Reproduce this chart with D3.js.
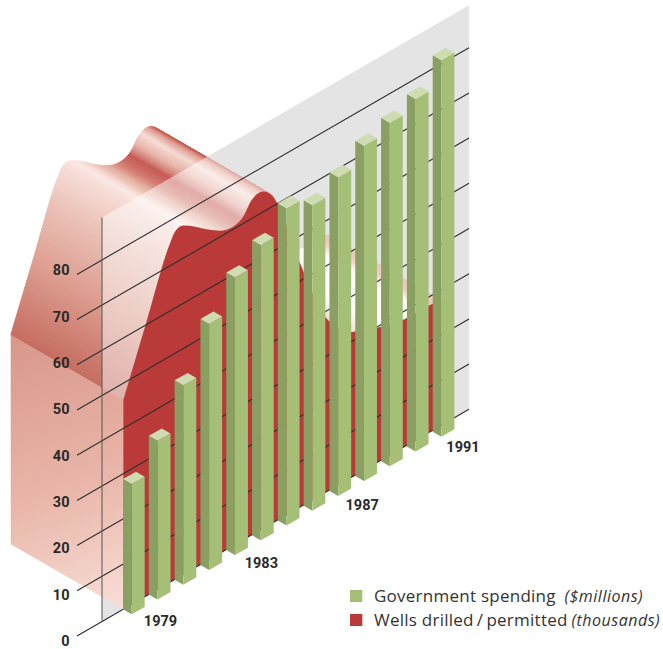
<!DOCTYPE html>
<html><head><meta charset="utf-8">
<script src="https://cdn.jsdelivr.net/npm/d3@7"></script>
<style>html,body{margin:0;padding:0;background:#fff}svg{display:block}</style>
</head><body><svg id="chart" width="663" height="649"></svg>
<script>
// ---- data ----
const years = [1979,1980,1981,1982,1983,1984,1985,1986,1987,1988,1989,1990,1991];
const spending = [28.8,35.1,44.1,54.4,61.4,65.3,70.2,67.6,70.5,74.2,76,78,83.3];
const wellsYears = [1979,1979.9,1980.81,1981,1981.32,1981.84,1982.22,1982.74,1983.25,1983.64,1983.97,1984.42,1984.74,1984.96,1985.84,1986.85,1987.82,1988.83,1989.84,1990.81,1991.31];
const wellsValues = [46.3,60.7,75,76.9,77.2,75.2,73.4,71.4,70.6,71.5,74.1,74.5,72.7,70.1,54,38.5,32.2,29.8,28.2,28.1,27.8];
const valueTicks = [0,10,20,30,40,50,60,70,80];
const yearLabels = [1979,1983,1987,1991];
// shading of the swept top of the wells ribbon, keyed by year along the curve
const shadeYears = [1979,1979.9,1980.8,1981.3,1981.85,1982.72,1983.2,1983.55,1983.8,1984,1984.25,1984.45,1984.96,1985.84,1986.85,1987.82,1989.02,1990.49,1990.87,1991.31];
const shadeColors = ["#c4685c","#de9f91","#f3d2ca","#fbe9e5","#f4d6cf","#e5ae9f","#d0746a","#c4564e","#e8b6aa","#f7dcd5","#e09a8f","#c4584f","#dd9d90","#f2cdc4","#dfa090","#ecc0b4","#ffffff","#ffffff","#dd9c8c","#d68d7d"];
const legendItems = [
  {label:"Government spending", unit:"($millions)", color:"#a5bf76", baseline:602, unitX:564.5},
  {label:"Wells drilled\u2009/\u2009permitted", unit:"(thousands)", color:"#b93a38", baseline:626, unitX:571.5}
];

// ---- oblique projection, all through scales ----
const svg = d3.select("#chart");
const baseX = d3.scaleLinear().domain([1979,1991]).range([131.7,441.4]);   // front foot of a bar
const baseY = d3.scaleLinear().domain([1979,1991]).range([614.3,436.7]);
const h = d3.scaleLinear().domain([0,100]).range([0,452]);                 // value -> pixels up
const lineX = d3.scaleLinear().domain([0,1]).range([77,469]);              // grid line run
const gridY0 = d3.scaleLinear().domain([77,469]).range([636,409.3]);       // zero line y at a given x
const wallX = d3.scaleLinear().domain([1979,1991]).range([123.3,433.26]);  // wall position of a year
const depth = {dx:-112.6,dy:-65};
const barL = {dx:-8.7,dy:-5}, barR = {dx:13,dy:-7.4};
const planeLeft = 102, planeRight = 469, planeTop = 89.4;
const pts = a => a.map(p => p.map(n => n.toFixed(2)).join(",")).join(" ");

const defs = svg.append("defs");
const capGrad = defs.append("linearGradient").attr("id","cap").attr("gradientUnits","userSpaceOnUse")
  .attr("x1",30).attr("y1",330).attr("x2",125).attr("y2",610);
capGrad.append("stop").attr("offset",0).attr("stop-color","#d8978a");
capGrad.append("stop").attr("offset",0.55).attr("stop-color","#e9b6a9");
capGrad.append("stop").attr("offset",1).attr("stop-color","#f8dfd8");

const planePoly = [
  [planeLeft,gridY0(planeLeft)],[planeRight,gridY0(planeRight)],
  [planeRight,gridY0(planeRight)-h(planeTop)],[planeLeft,gridY0(planeLeft)-h(planeTop)]
];
defs.append("clipPath").attr("id","planeClip").append("polygon").attr("points",pts(planePoly));

// grey back plane
svg.append("polygon").attr("points",pts(planePoly)).attr("fill","#e4e4e4");

// wall outline
const wallData = wellsYears.map((y,i)=>{
  const x = wallX(y);
  return [x, gridY0(x)-h(wellsValues[i])];
});
const curve = d3.line().curve(d3.curveMonotoneX);
const helper = svg.append("path").attr("d",curve(wallData)).attr("fill","none").attr("stroke","none");
const len = helper.node().getTotalLength();
const samples = d3.range(0,len+0.01,1.2).map(l=>helper.node().getPointAtLength(l));
helper.remove();
const yearOfX = wallX.invert;
const shade = d3.scaleLinear().domain(shadeYears).range(shadeColors);
const stripPts = i=>{
  const a=samples[i], b=samples[i+1];
  return pts([[a.x,a.y],[b.x,b.y],[b.x+depth.dx,b.y+depth.dy],[a.x+depth.dx,a.y+depth.dy]]);
};

// swept top of the ribbon, drawn back-to-front
const strips = d3.range(samples.length-1).reverse();
svg.append("g").selectAll("polygon").data(strips).join("polygon")
  .attr("points",stripPts)
  .attr("fill",i=>shade(yearOfX(samples[i].x)))
  .attr("stroke",i=>shade(yearOfX(samples[i].x)))
  .attr("stroke-width",0.6);

// the translucent plane lightens what lies behind it
svg.append("g").attr("clip-path","url(#planeClip)").attr("opacity",0.5)
  .selectAll("polygon").data(strips).join("polygon")
  .attr("points",stripPts)
  .attr("fill","#fff").attr("stroke","#fff").attr("stroke-width",0.6);

// end cap of the wells volume
const x0 = wallX(1979), top0 = wallData[0][1], bot0 = gridY0(x0);
svg.append("polygon").attr("fill","url(#cap)")
  .attr("points",pts([[x0,top0],[x0,bot0],[x0+depth.dx,bot0+depth.dy],[x0+depth.dx,top0+depth.dy]]));

// red front wall
const wallArea = d3.area().curve(d3.curveMonotoneX).x(d=>d[0]).y1(d=>d[1]).y0(d=>gridY0(d[0]));
svg.append("path").attr("d",wallArea(wallData)).attr("fill","#b93a38");

// grid lines and axis
const gridG = svg.append("g");
gridG.selectAll("line").data(valueTicks).join("line")
  .attr("x1",lineX(0)).attr("x2",lineX(1))
  .attr("y1",v=>gridY0(lineX(0))-h(v)).attr("y2",v=>gridY0(lineX(1))-h(v))
  .attr("stroke","#2e2e2e").attr("stroke-width",1.1);
svg.append("line").attr("x1",planeLeft).attr("x2",planeLeft)
  .attr("y1",gridY0(planeLeft)).attr("y2",gridY0(planeLeft)-h(planeTop))
  .attr("stroke","#555").attr("stroke-width",1);

// bars
const barData = years.map((y,i)=>({year:y,value:spending[i]})).reverse();
const bars = svg.append("g").selectAll("g").data(barData).join("g");
const fx = d=>baseX(d.year), fy = d=>baseY(d.year), ty = d=>fy(d)-h(d.value);
bars.append("polygon").attr("fill","#8a9f62").attr("points",d=>pts([
  [fx(d),fy(d)],[fx(d)+barL.dx,fy(d)+barL.dy],[fx(d)+barL.dx,ty(d)+barL.dy],[fx(d),ty(d)]]));
bars.append("polygon").attr("fill","#a5bf76").attr("points",d=>pts([
  [fx(d),fy(d)],[fx(d)+barR.dx,fy(d)+barR.dy],[fx(d)+barR.dx,ty(d)+barR.dy],[fx(d),ty(d)]]));
bars.append("polygon").attr("fill","#cfdcb2").attr("points",d=>pts([
  [fx(d),ty(d)],[fx(d)+barL.dx,ty(d)+barL.dy],[fx(d)+barL.dx+barR.dx,ty(d)+barL.dy+barR.dy],[fx(d)+barR.dx,ty(d)+barR.dy]]));

// labels
const font = "Roboto, 'Liberation Sans', sans-serif";
const tickLabelY = d3.scaleLinear().domain([0,80]).range([641,270]);
svg.append("g").selectAll("text").data(valueTicks).join("text")
  .attr("x",69.5).attr("y",v=>tickLabelY(v)).attr("dy","0.36em").attr("text-anchor","end")
  .attr("font-family",font).attr("font-weight",700).attr("font-size",14.5).attr("fill","#2a2a2a")
  .text(d=>d);
const yearLabelX = d3.scaleLinear().domain([1979,1991]).range([160.5,463]);
const yearLabelY = d3.scaleLinear().domain([1979,1991]).range([621,447]);
svg.append("g").selectAll("text").data(yearLabels).join("text")
  .attr("x",y=>yearLabelX(y)).attr("y",y=>yearLabelY(y)).attr("dy","0.36em").attr("text-anchor","middle")
  .attr("font-family",font).attr("font-weight",700).attr("font-size",14.5).attr("fill","#2a2a2a")
  .text(d=>d);

// legend
const lg = svg.append("g").selectAll("g").data(legendItems).join("g");
lg.append("rect").attr("x",350).attr("y",d=>d.baseline-12).attr("width",12.3).attr("height",12).attr("fill",d=>d.color);
lg.append("text").attr("x",374).attr("y",d=>d.baseline)
  .attr("font-family","'Open Sans', sans-serif").attr("font-size",17).attr("letter-spacing",0.25).attr("fill","#333").text(d=>d.label);
lg.append("text").attr("x",d=>d.unitX).attr("y",d=>d.baseline)
  .attr("font-family","'Open Sans', sans-serif").attr("font-style","italic").attr("font-size",16).attr("letter-spacing",0.5).attr("fill","#333").text(d=>d.unit);
</script></body></html>
